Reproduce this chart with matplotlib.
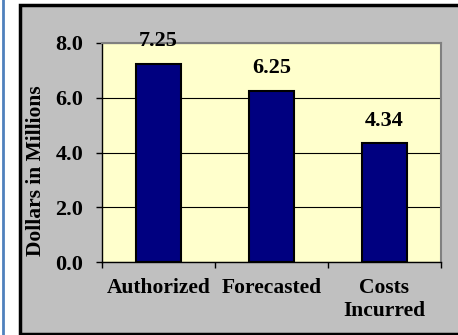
import matplotlib
matplotlib.use("Agg")
import matplotlib.pyplot as plt
from matplotlib.patches import Rectangle
from matplotlib.lines import Line2D

categories = ["Authorized", "Forecasted", "Costs\nIncurred"]
values = [7.25, 6.25, 4.34]
value_labels = ["7.25", "6.25", "4.34"]
yticks = [0.0, 2.0, 4.0, 6.0, 8.0]
ytick_labels = ["0.0", "2.0", "4.0", "6.0", "8.0"]
ylabel = "Dollars in Millions"

W, H = 458, 335
fig = plt.figure(figsize=(W / 100, H / 100), dpi=100)
fig.patch.set_facecolor("white")

font = {"family": "Liberation Serif", "weight": "bold"}
fs_x = 15.5
fs_y = 16
fs_v = 16

# blue page line at left
fig.add_artist(Line2D([2.8 / W, 2.8 / W], [0, 1], transform=fig.transFigure,
                      color="#4F81BD", linewidth=2))
# grey chart box
fig.add_artist(Rectangle((19.5 / W, 1 - 333.5 / H), 1.0, (333.5 - 5) / H,
                         transform=fig.transFigure, facecolor="#C0C0C0",
                         edgecolor="black", linewidth=2.5, zorder=0))

ax = fig.add_axes([102 / W, 1 - 262 / H, (441 - 102) / W, (262 - 43) / H])
ax.set_facecolor("#FFFFCC")
x = list(range(len(categories)))
ax.bar(x, values, width=0.4, color="#000080", edgecolor="black", linewidth=1.5, zorder=3)
ax.set_xlim(-0.5, len(categories) - 0.5)
ax.set_ylim(0, 8)

ax.set_yticks(yticks)
ax.set_yticklabels(ytick_labels, fontdict=font, fontsize=fs_y)
ax.tick_params(axis="y", direction="out", length=4.5, width=1, pad=9, colors="black")
ax.set_xticks(x)
ax.set_xticklabels(categories, fontdict=font, fontsize=fs_x, linespacing=1.2)
ax.tick_params(axis="x", which="major", length=0, pad=11.5)
ax.set_xticks([-0.5, 0.5, 1.5, 2.5], minor=True)
ax.tick_params(axis="x", which="minor", direction="out", length=4, width=1, color="black")

ax.grid(axis="y", color="black", linewidth=0.8, zorder=1)
ax.set_axisbelow(True)
for s in ["top", "right"]:
    ax.spines[s].set_color("#808080")
    ax.spines[s].set_linewidth(1.5)
for s in ["left", "bottom"]:
    ax.spines[s].set_color("black")
    ax.spines[s].set_linewidth(1)

for xi, v, lab in zip(x, values, value_labels):
    ax.annotate(lab, (xi, v), xytext=(0, 9), textcoords="offset points",
                ha="center", va="bottom", fontsize=fs_v, fontfamily="Liberation Serif",
                fontweight="bold", clip_on=False, zorder=4)

fig.text(36 / W, 1 - 171 / H, ylabel, rotation=90, ha="center", va="center",
         fontsize=15.5, fontfamily="Liberation Serif", fontweight="bold")

fig.savefig("out.png", dpi=100)
